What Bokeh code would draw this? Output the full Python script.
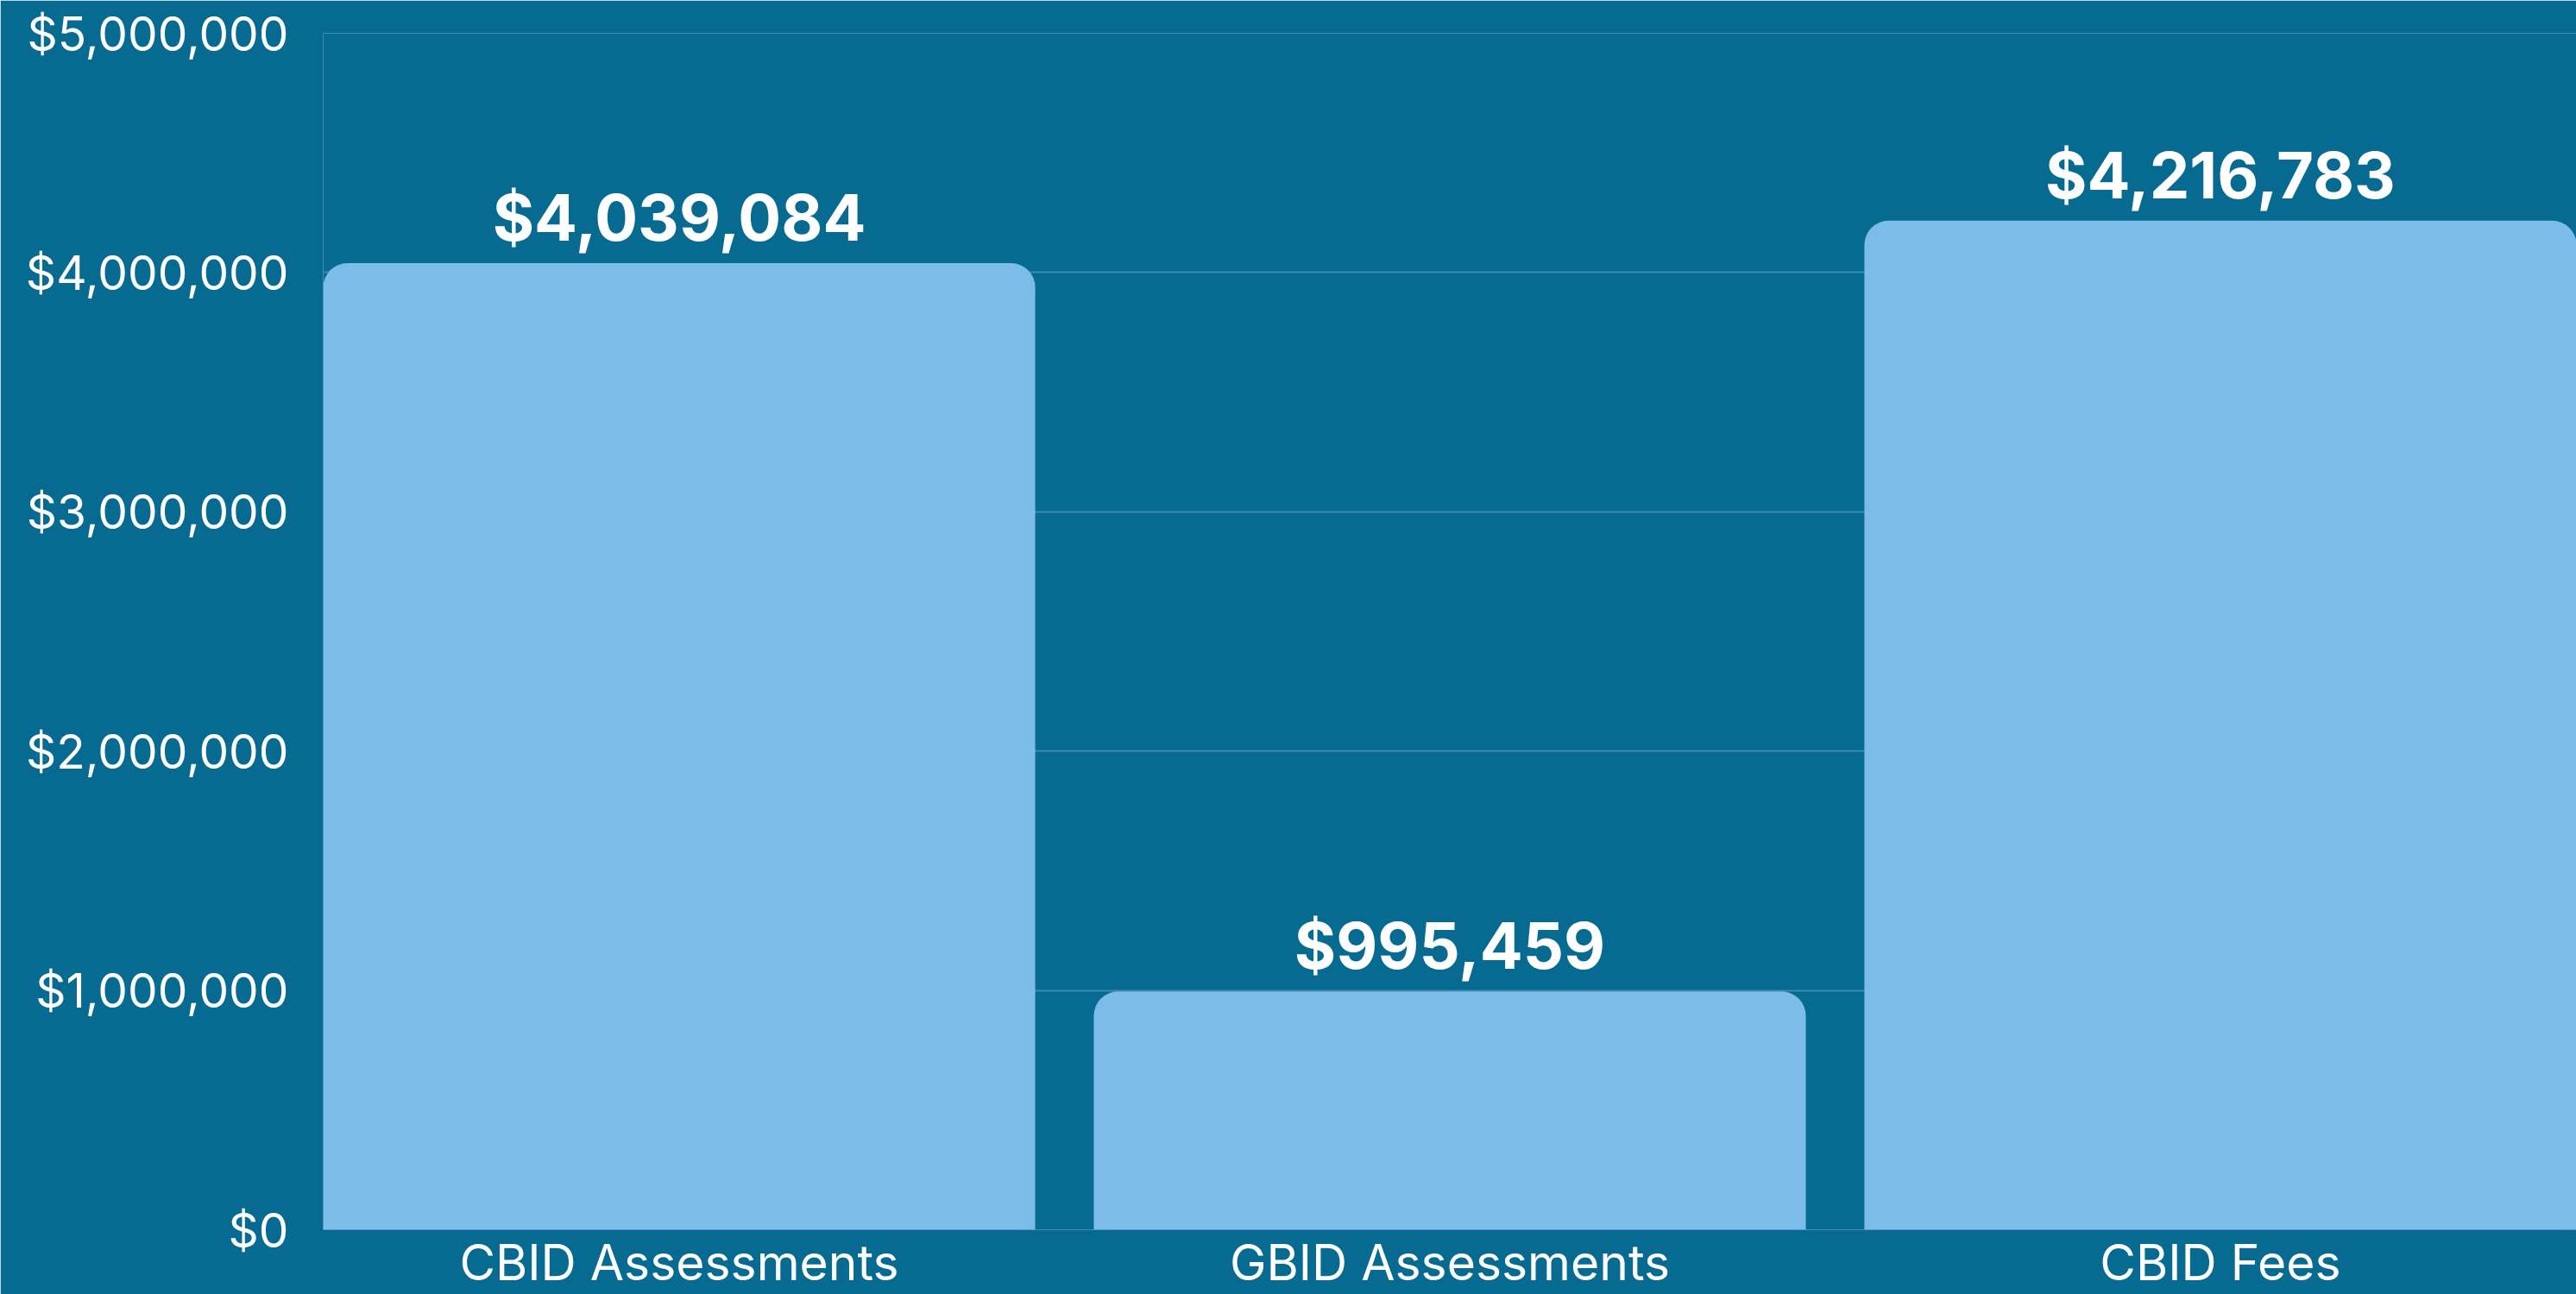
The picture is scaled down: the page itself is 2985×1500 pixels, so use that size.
from bokeh.plotting import figure
from bokeh.models import ColumnDataSource, NumeralTickFormatter, FixedTicker, Range1d
from bokeh.core.properties import value
from bokeh.embed import file_html
from bokeh.resources import INLINE

categories = ["CBID Assessments", "GBID Assessments", "CBID Fees"]
amounts = [4039084, 995459, 4216783]
y_ticks = [0, 1000000, 2000000, 3000000, 4000000, 5000000]

xs = list(range(len(categories)))
labels = [f"${v:,}" for v in amounts]
src = ColumnDataSource(dict(x=xs, top=amounts, label=labels))

BG = "#066a91"
BAR = "#7bbce8"
GRID = "#3f88ae"
FONT = "Inter"

p = figure(width=2985, height=1500, output_backend="svg", toolbar_location=None,
           x_range=Range1d(-0.462, 2.462), y_range=Range1d(0, 5000000),
           background_fill_color=BG, border_fill_color=BG, outline_line_color=None,
           min_border_left=374, min_border_right=0, min_border_top=38, min_border_bottom=74)

p.vbar(x="x", top="top", bottom=0, width=0.924, source=src,
       fill_color=BAR, line_color=None, border_radius=(28, 28, 0, 0))

p.text(x="x", y="top", text="label", source=src, text_align="center",
       text_baseline="alphabetic", y_offset=-53, text_color="white",
       text_font=value(FONT), text_font_style="bold", text_font_size="74px")

p.xaxis.ticker = FixedTicker(ticks=xs)
p.xaxis.major_label_overrides = {i: c for i, c in enumerate(categories)}
p.yaxis.ticker = FixedTicker(ticks=y_ticks)
p.yaxis.formatter = NumeralTickFormatter(format="$0,0")

for ax in (p.xaxis, p.yaxis):
    ax.axis_line_color = None
    ax.major_tick_line_color = None
    ax.minor_tick_line_color = None
    ax.major_tick_out = 0
    ax.major_tick_in = 0
    ax.major_label_text_color = "white"
    ax.major_label_text_font = FONT

p.yaxis.major_label_text_font_size = "55px"
p.xaxis.major_label_text_font_size = "57px"
p.yaxis.major_label_standoff = 40
p.xaxis.major_label_standoff = 3

p.xgrid.grid_line_color = None
p.ygrid.ticker = FixedTicker(ticks=y_ticks)
p.ygrid.grid_line_color = GRID
p.ygrid.grid_line_width = 2

open("out.html", "w").write(file_html(p, INLINE))
